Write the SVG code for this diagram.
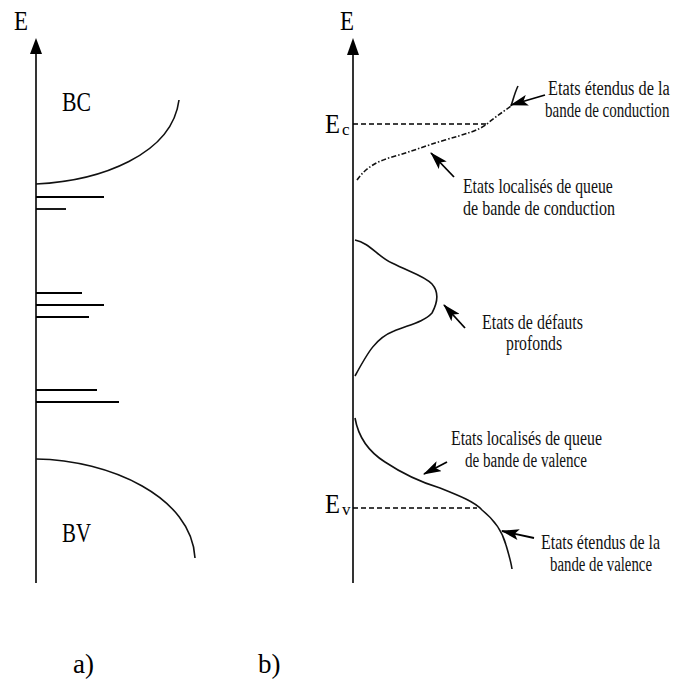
<svg xmlns="http://www.w3.org/2000/svg" width="674" height="684" viewBox="0 0 674 684">
<style>
.ax{stroke:#000;stroke-width:1.6;fill:none}
.ln{stroke:#000;stroke-width:1.8;fill:none}
.cv{stroke:#111;stroke-width:1.6;fill:none}
.dash{stroke:#000;stroke-width:1.5;stroke-dasharray:5,3;fill:none}
.dd{stroke:#111;stroke-width:1.6;stroke-dasharray:5,2,1.5,2;fill:none}
.t{font-family:"Liberation Serif","Times New Roman",serif;fill:#000}
.ann{font-family:"Liberation Serif","Times New Roman",serif;font-size:20px;fill:#111}
.arr{stroke:#000;stroke-width:1.8;fill:none;marker-end:url(#ah)}
</style>
<defs>
<marker id="ah" viewBox="0 0 18 11" refX="17" refY="5.5" markerWidth="18" markerHeight="11" markerUnits="userSpaceOnUse" orient="auto" preserveAspectRatio="none">
<path d="M0,0 L18,5.5 L0,11 L4,5.5 Z" fill="#000"/>
</marker>
</defs>
<rect width="674" height="684" fill="#fff"/>

<g id="panel-a">
  <g id="axis-a">
    <line class="ax" x1="36" y1="583" x2="36" y2="50"/>
    <path d="M36,38 L30,54 L42,54 Z" fill="#000"/>
    <text class="t" x="14" y="30" font-size="27" textLength="14" lengthAdjust="spacingAndGlyphs">E</text>
  </g>
  <g id="bc">
    <path class="cv" d="M36,184 C100,181 172,155 179,100"/>
    <text class="t" x="62" y="111" font-size="28" textLength="29" lengthAdjust="spacingAndGlyphs">BC</text>
  </g>
  <g id="levels">
    <line class="ln" x1="36" y1="197" x2="104" y2="197"/>
    <line class="ln" x1="36" y1="209" x2="66" y2="209"/>
    <line class="ln" x1="36" y1="293" x2="82" y2="293"/>
    <line class="ln" x1="36" y1="305" x2="104" y2="305"/>
    <line class="ln" x1="36" y1="317" x2="89" y2="317"/>
    <line class="ln" x1="36" y1="390" x2="97" y2="390"/>
    <line class="ln" x1="36" y1="402" x2="119" y2="402"/>
  </g>
  <g id="bv">
    <path class="cv" d="M36,459 C110,460 192,497 195,558"/>
    <text class="t" x="62" y="542" font-size="28" textLength="29" lengthAdjust="spacingAndGlyphs">BV</text>
  </g>
  <text class="t" x="73" y="673" font-size="27">a)</text>
</g>

<g id="panel-b">
  <g id="axis-b">
    <line class="ax" x1="353" y1="583" x2="353" y2="52"/>
    <path d="M353,38 L347,55 L359,55 Z" fill="#000"/>
    <text class="t" x="340" y="30" font-size="27" textLength="14" lengthAdjust="spacingAndGlyphs">E</text>
  </g>
  <g id="ec">
    <line class="dash" x1="353" y1="124" x2="488" y2="124"/>
    <text class="t" x="325" y="133" font-size="28" textLength="15" lengthAdjust="spacingAndGlyphs">E</text>
    <text class="t" x="342" y="135" font-size="17">c</text>
  </g>
  <g id="ev">
    <line class="dash" x1="353" y1="508" x2="477" y2="508"/>
    <text class="t" x="325" y="513" font-size="28" textLength="15" lengthAdjust="spacingAndGlyphs">E</text>
    <text class="t" x="342" y="515" font-size="17">v</text>
  </g>
  <g id="cb-tail">
    <path class="dd" d="M357,180 C366,167 378,161 392,157 C410,152 425,146 445,140 C465,134 478,131 487,124 C495,117 503,112 511,106"/>
    <path class="cv" d="M511,106 C513,100 515,92 518,86"/>
  </g>
  <g id="defects">
    <path class="cv" d="M355,240 C370,243 378,257 392,263 C410,272 425,276 432,284 C439,292 438,302 432,313 C424,322 408,325 394,331 C376,338 368,352 355,376"/>
  </g>
  <g id="vb-tail">
    <path class="cv" d="M355,418 C358,435 366,450 385,462 C400,472 420,482 440,488 C460,496 475,502 482,510 C492,518 502,530 506,545 C509,555 511,562 512,569"/>
  </g>
  <text class="t" x="258" y="673" font-size="27">b)</text>
</g>

<g id="connectors">
  <line class="arr" x1="545" y1="95" x2="511" y2="105"/>
  <line class="arr" x1="454" y1="177" x2="431" y2="153"/>
  <line class="arr" x1="465" y1="328" x2="444" y2="305"/>
  <line class="arr" x1="447" y1="462" x2="424" y2="474"/>
  <line class="arr" x1="534" y1="538" x2="502" y2="531"/>
</g>

<g id="labels">
  <text class="ann" transform="translate(548,95) scale(0.815,1)">Etats étendus de la</text>
  <text class="ann" transform="translate(545,117) scale(0.752,1)">bande de conduction</text>
  <text class="ann" transform="translate(463,193) scale(0.787,1)">Etats localisés de queue</text>
  <text class="ann" transform="translate(463,215) scale(0.803,1)">de bande de conduction</text>
  <text class="ann" transform="translate(482,329) scale(0.798,1)">Etats de défauts</text>
  <text class="ann" transform="translate(506,350) scale(0.788,1)">profonds</text>
  <text class="ann" transform="translate(451,445) scale(0.793,1)">Etats localisés de queue</text>
  <text class="ann" transform="translate(465,467) scale(0.755,1)">de bande de valence</text>
  <text class="ann" transform="translate(541,549) scale(0.797,1)">Etats étendus de la</text>
  <text class="ann" transform="translate(550,571) scale(0.741,1)">bande de valence</text>
</g>
</svg>
